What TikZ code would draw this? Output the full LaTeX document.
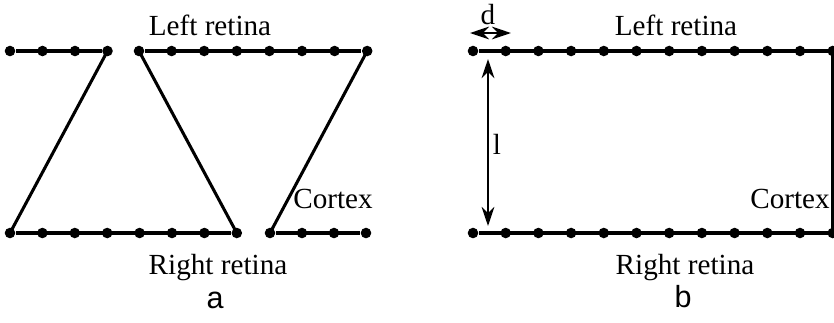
\documentclass[tikz,border=0pt]{standalone}
\usepackage{fontspec}
\setmainfont{Liberation Serif}
\setsansfont{Liberation Sans}
\usetikzlibrary{arrows.meta, positioning}

\begin{document}
\begin{tikzpicture}[
    x=0.36pt, y=-0.36pt,
    cell/.style={circle, fill=black, inner sep=0pt, minimum size=3.8pt},
    fibre/.style={line width=1.1pt},
    tag/.style={inner sep=0pt, anchor=base, font=\fontsize{10.5}{12}\selectfont},
    panel/.style={inner sep=0pt, anchor=base, font=\sffamily\fontsize{11}{13}\selectfont},
    measure/.style={{Stealth[length=2.4mm, width=1.6mm]}-{Stealth[length=2.4mm, width=1.6mm]}, line width=1pt}
]
\useasboundingbox (0,0) rectangle (834,322);

% Panel a: left retina cells
\foreach \i in {0,...,3}
    \node[cell] (atl\i) at (10+32.5*\i, 51) {};
\foreach \i in {0,...,7}
    \node[cell] (atr\i) at (139+32.6*\i, 51) {};

% Panel a: right retina cells
\foreach \i in {0,...,7}
    \node[cell] (abl\i) at (10+32.4*\i, 233) {};
\foreach \i in {0,...,3}
    \node[cell] (abr\i) at (270+32*\i, 233) {};

% Panel a: retina rows and cortex fibres
\draw[fibre] (atl0) -- (atl3);
\draw[fibre] (atr0) -- (atr7);
\draw[fibre] (abl0) -- (abl7);
\draw[fibre] (abr0) -- (abr3);
\draw[fibre] (atl3.center) -- (abl0.center);
\draw[fibre] (atr0.center) -- (abl7.center);
\draw[fibre] (atr7.center) -- (abr0.center);

% Panel a: labels
\node[tag] (aleft) at (210,35) {Left retina};
\node[tag] (aright) at (218,274) {Right retina};
\node[tag] (acortex) at (333,208) {Cortex};
\node[panel] (apanel) at (215,308) {a};

% Panel b: retina cells
\foreach \i in {0,...,11} {
    \node[cell] (bt\i) at (473+32.7*\i, 51) {};
    \node[cell] (bb\i) at (473+32.7*\i, 233) {};
}

% Panel b: retina rows and cortex
\draw[fibre] (bt0) -- (bt11.center);
\draw[fibre] (bb0) -- (bb11.center);
\draw[fibre] (bt11.center) -- (bb11.center);

% Panel b: spacing d and distance l
\coordinate (dstart) at (470,33);
\coordinate (dend) at (511,33);
\draw[measure] (dstart) -- (dend);
\coordinate (ltop) at (488,59);
\coordinate (lbot) at (488,226);
\draw[measure] (ltop) -- (lbot);

% Panel b: labels
\node[tag] (dlabel) at (488,24) {d};
\node[tag] (llabel) at (497,154) {l};
\node[tag] (bleft) at (676,35) {Left retina};
\node[tag] (bright) at (685,274) {Right retina};
\node[tag] (bcortex) at (790,208) {Cortex};
\node[panel] (bpanel) at (683,307) {b};

\end{tikzpicture}
\end{document}
